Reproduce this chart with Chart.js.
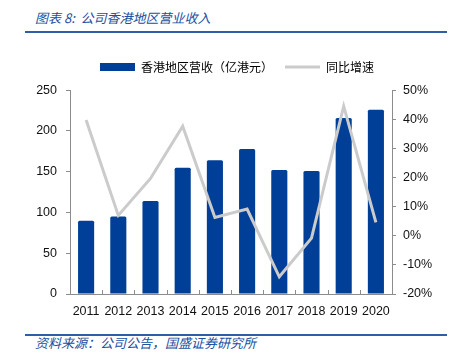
<!DOCTYPE html>
<html>
<head>
<meta charset="utf-8">
<script src="https://cdn.jsdelivr.net/npm/chart.js@4/dist/chart.umd.min.js"></script>
<style>
  body { margin: 0; background: #fff; width: 454px; height: 363px; position: relative; overflow: hidden; }
  .title { position: absolute; left: 35px; top: 8px; font: italic 13px "Noto Sans CJK SC"; color: #2050a0; }
  .rule1 { position: absolute; left: 25px; top: 31px; width: 422px; height: 2px; background: #2f5da8; }
  .rule2 { position: absolute; left: 25px; top: 334px; width: 422px; height: 2px; background: #2f5da8; }
  .src { position: absolute; left: 35px; top: 333px; font: italic 13px "Noto Sans CJK SC"; color: #2050a0; }
  #wrap { position: absolute; left: 0; top: 49px; width: 454px; height: 279px; }
</style>
</head>
<body>
<div class="title">图表 8:&nbsp; 公司香港地区营业收入</div>
<div class="rule1"></div>
<div id="wrap"><canvas id="my-chart"></canvas></div>
<div class="rule2"></div>
<div class="src">资料来源：公司公告，国盛证券研究所</div>
<script>
const years = ["2011", "2012", "2013", "2014", "2015", "2016", "2017", "2018", "2019", "2020"];
// 香港地区营收（亿港元）
const revenue = [90, 95, 114, 155, 164, 178, 152, 151, 216, 226];
// 同比增速 (%)
const growth = [39.8, 7.0, 19.7, 37.6, 6.3, 9.2, -14.1, -0.8, 44.5, 4.6];

const barColor = "#003f98";
const lineColor = "#cbcbcb";
const axisColor = "#8c8c8c";
const tickFont = { family: "'Liberation Sans', Arial, sans-serif", size: 12.5 };

// small ticks between categories, pointing up from the x axis
const innerTicks = {
  id: "innerTicks",
  afterDraw(chart) {
    const x = chart.scales.x;
    const ctx = chart.ctx;
    const bottom = chart.chartArea.bottom;
    ctx.save();
    ctx.strokeStyle = axisColor;
    ctx.lineWidth = 1;
    for (let i = 1; i < years.length; i++) {
      const px = Math.round((x.getPixelForValue(i - 1) + x.getPixelForValue(i)) / 2) + 0.5;
      ctx.beginPath();
      ctx.moveTo(px, bottom);
      ctx.lineTo(px, bottom - 4);
      ctx.stroke();
    }
    ctx.restore();
  }
};

const ctx = document.getElementById("my-chart").getContext("2d");
new Chart(ctx, {
  data: {
    labels: years,
    datasets: [
      {
        type: "bar",
        label: "香港地区营收（亿港元）",
        data: revenue,
        backgroundColor: barColor,
        borderRadius: 1.5,
        barPercentage: 0.5,
        categoryPercentage: 1,
        yAxisID: "y",
        order: 2
      },
      {
        type: "line",
        label: "同比增速",
        data: growth,
        borderColor: lineColor,
        backgroundColor: lineColor,
        borderWidth: 3,
        pointRadius: 0,
        tension: 0,
        yAxisID: "y1",
        order: 1
      }
    ]
  },
  options: {
    responsive: true,
    maintainAspectRatio: false,
    animation: false,
    layout: { padding: { left: 20, right: 0, top: 0, bottom: 7 } },
    plugins: {
      tooltip: { enabled: false },
      subtitle: {
        display: true,
        position: "top",
        weight: 500,
        text: " ",
        font: { size: 1 },
        padding: { top: 2, bottom: 4 }
      },
      legend: {
        position: "top",
        labels: {
          font: { family: "'Noto Sans CJK SC'", size: 12 },
          color: "#222",
          usePointStyle: true,
          pointStyleWidth: 35,
          boxHeight: 8,
          padding: 12,
          generateLabels() {
            return [
              { text: "香港地区营收（亿港元）", fillStyle: barColor, strokeStyle: barColor, lineWidth: 0, pointStyle: "rect", datasetIndex: 0 },
              { text: "同比增速", fillStyle: lineColor, strokeStyle: lineColor, lineWidth: 3, pointStyle: "line", datasetIndex: 1 }
            ];
          }
        }
      }
    },
    scales: {
      x: {
        grid: { display: false },
        border: { color: axisColor },
        ticks: { font: tickFont, color: "#111", padding: 2, maxRotation: 0, autoSkip: false }
      },
      y: {
        position: "left",
        min: 0,
        max: 250,
        ticks: { stepSize: 50, font: tickFont, color: "#111", padding: 9 },
        grid: { drawOnChartArea: false, tickLength: 4, color: axisColor },
        border: { color: axisColor },
        afterFit(s) { s.width = 50; }
      },
      y1: {
        position: "right",
        min: -20,
        max: 50,
        ticks: { stepSize: 10, font: tickFont, color: "#111", padding: 7,
          callback: v => v + "%" },
        grid: { drawOnChartArea: false, tickLength: 4, color: axisColor },
        border: { color: axisColor },
        afterFit(s) { s.width = 62; }
      }
    }
  },
  plugins: [innerTicks]
});
</script>
</body>
</html>
